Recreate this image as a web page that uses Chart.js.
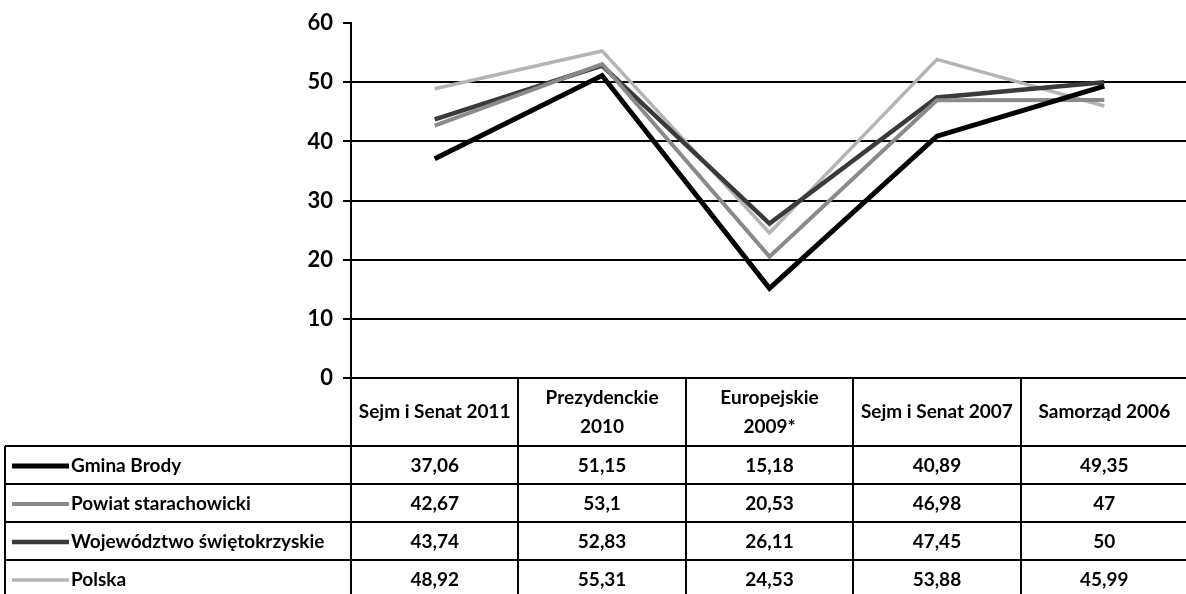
<!DOCTYPE html>
<html lang="pl">
<head>
<meta charset="utf-8">
<title>Frekwencja wyborcza</title>
<script src="https://cdn.jsdelivr.net/npm/chart.js@4/dist/chart.umd.min.js"></script>
<style>
  html, body { margin: 0; padding: 0; background: #fff; overflow: hidden; }
  canvas { display: block; }
</style>
</head>
<body>
<canvas id="chart" width="1190" height="600"></canvas>
<script>
// Election categories (header lines as drawn in the table)
const categories = [
  ['Sejm i Senat 2011'],
  ['Prezydenckie', '2010'],
  ['Europejskie', '2009*'],
  ['Sejm i Senat 2007'],
  ['Samorząd 2006']
];

// Turnout (%) per area
const gminaBrody  = [37.06, 51.15, 15.18, 40.89, 49.35];
const powiat      = [42.67, 53.1, 20.53, 46.98, 47];
const wojewodztwo = [43.74, 52.83, 26.11, 47.45, 50];
const polska      = [48.92, 55.31, 24.53, 53.88, 45.99];

const seriesNames = ['Gmina Brody', 'Powiat starachowicki', 'Województwo świętokrzyskie', 'Polska'];

// Value axis
const yMin = 0, yMax = 60, yStep = 10;

const FONT = 'Lato, "Open Sans", sans-serif';

const seriesStyles = [
  { color: '#000000', width: 5 },
  { color: '#8a8a8a', width: 4 },
  { color: '#3a3a3a', width: 4.5 },
  { color: '#b4b4b4', width: 3.5 }
];

const seriesData = [gminaBrody, powiat, wojewodztwo, polska];

const fmt = v => String(v).replace('.', ',');

// Data table drawn under the plot, aligned with the category scale
const dataTablePlugin = {
  id: 'dataTable',
  afterDraw(chart) {
    const ctx = chart.ctx;
    const area = chart.chartArea;
    const xs = chart.scales.x;
    const n = categories.length;
    const colW = (area.right - area.left) / n;
    const headerTop = area.bottom;
    const headerBottom = headerTop + 68;
    const rowH = 38;
    const tableLeft = 5;
    const tableBottom = headerBottom + rowH * seriesNames.length;
    const right = area.right;

    ctx.save();
    ctx.strokeStyle = '#000';
    ctx.lineWidth = 2;
    ctx.beginPath();
    // vertical column boundaries
    for (let i = 0; i <= n; i++) {
      const x = Math.round(area.left + i * colW);
      ctx.moveTo(x, headerTop);
      ctx.lineTo(x, tableBottom);
    }
    ctx.moveTo(tableLeft, headerBottom);
    ctx.lineTo(tableLeft, tableBottom);
    // horizontal row lines
    ctx.moveTo(area.left, headerTop);
    ctx.lineTo(right, headerTop);
    for (let r = 0; r <= seriesNames.length; r++) {
      const y = headerBottom + r * rowH;
      ctx.moveTo(tableLeft, y);
      ctx.lineTo(right, y);
    }
    ctx.stroke();

    ctx.fillStyle = '#000';
    ctx.textAlign = 'center';
    ctx.textBaseline = 'middle';
    ctx.font = 'bold 19px ' + FONT;
    // header cells
    const headMid = (headerTop + headerBottom) / 2;
    const lh = 29;
    categories.forEach((lines, i) => {
      const cx = xs.getPixelForValue(i);
      const y0 = headMid - (lines.length - 1) * lh / 2;
      lines.forEach((t, k) => ctx.fillText(t, cx, y0 + k * lh));
    });

    // rows: legend key, name, values
    seriesNames.forEach((name, r) => {
      const cy = headerBottom + r * rowH + rowH / 2 + 1;
      const st = seriesStyles[r];
      ctx.strokeStyle = st.color;
      ctx.lineWidth = st.width;
      ctx.beginPath();
      ctx.moveTo(tableLeft + 7, cy);
      ctx.lineTo(tableLeft + 64, cy);
      ctx.stroke();

      ctx.textAlign = 'left';
      ctx.fillText(name, tableLeft + 66, cy);
      ctx.textAlign = 'center';
      seriesData[r].forEach((v, i) => {
        ctx.fillText(fmt(v), xs.getPixelForValue(i), cy);
      });
    });
    ctx.restore();
  }
};

new Chart(document.getElementById('chart'), {
  type: 'line',
  data: {
    labels: categories,
    datasets: seriesNames.map((name, i) => ({
      label: name,
      data: seriesData[i],
      borderColor: seriesStyles[i].color,
      borderWidth: seriesStyles[i].width,
      pointRadius: 0,
      tension: 0,
      fill: false
    }))
  },
  options: {
    responsive: false,
    animation: false,
    devicePixelRatio: 1,
    layout: { padding: { left: 0, right: 2, top: 20, bottom: 222 } },
    plugins: {
      legend: { display: false },
      tooltip: { enabled: false }
    },
    scales: {
      x: {
        type: 'category',
        offset: true,
        display: false
      },
      y: {
        min: yMin,
        max: yMax,
        ticks: {
          stepSize: yStep,
          padding: 10,
          color: '#000',
          font: { family: FONT, size: 22, weight: 'bold' }
        },
        grid: {
          color: c => (c.tick && c.tick.value === yMax) ? 'rgba(0,0,0,0)' : '#000',
          tickColor: '#000',
          lineWidth: 2,
          tickLength: 8
        },
        border: { display: true, color: '#000', width: 2 },
        afterFit(scale) { scale.width = 351; }
      }
    }
  },
  plugins: [dataTablePlugin]
});
</script>
</body>
</html>
